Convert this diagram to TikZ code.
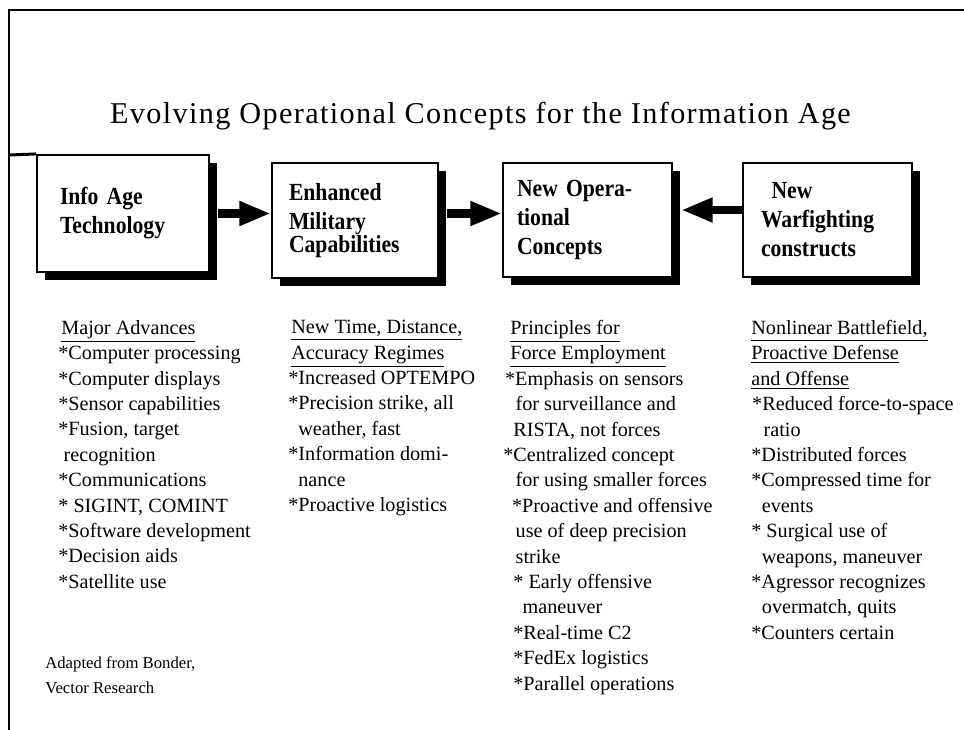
\documentclass[tikz,border=0pt]{standalone}
\usepackage{fontspec}
\setmainfont{Liberation Serif}
\newfontfamily\titlefont[LetterSpace=4.5]{Liberation Serif}
\newfontfamily\boxfont[FakeStretch=0.88]{Liberation Serif}
\usetikzlibrary{arrows.meta,positioning,calc,shadows}
\newcommand{\listsize}{\fontsize{11.5}{14.45}\selectfont}
\newcommand{\boxsize}{\fontsize{14}{16.5}\selectfont}
\newcommand{\ind}[1]{\hspace*{#1pt}}
\tikzset{
  frameline/.style={line width=1.7pt},
  blockbox/.style={draw,line width=1.2pt,fill=white,align=left,
    font=\boxfont\bfseries\boxsize,
    drop shadow={shadow xshift=0.16cm,shadow yshift=-0.16cm,fill=black,opacity=1}},
  bigarrow/.style={line width=4.6pt,-{Triangle[length=18pt,width=13pt]}},
  listcol/.style={anchor=north west,align=left,inner sep=0pt,font=\listsize}
}
\begin{document}
\begin{tikzpicture}[x=0.02cm,y=-0.02cm]
\useasboundingbox (0,0) rectangle (964,730);

% ---------- frame and title ----------
\draw[frameline] (964,10) -- (9,10) -- (9,730);
\node[anchor=base,font=\titlefont\fontsize{17.2}{20}\selectfont] (title) at (480.5,123)
  {Evolving Operational Concepts for the Information Age};

% ---------- the four blocks ----------
\node[blockbox,text width=2.52cm,inner xsep=0.46cm,minimum height=2.34cm] (tech) at (123,213.5)
  {Info Age\\Technology};
\node[blockbox,text width=2.64cm,inner xsep=0.34cm,minimum height=2.3cm] (mil) at (355,220.5)
  {Enhanced\\Military\\[-3.5pt]Capabilities};
\node[blockbox,text width=2.82cm,inner xsep=0.28cm,minimum height=2.28cm] (ops) at (587.5,220)
  {New Opera-\\tional\\Concepts};
\node[blockbox,text width=2.66cm,inner xsep=0.36cm,minimum height=2.28cm] (war) at (827.5,220)
  {\ind{6}New\\Warfighting\\constructs};
\draw[frameline] (9,155) -- (tech.north west);

% ---------- arrows between blocks ----------
\draw[bigarrow] ([xshift=0.16cm]tech.east) -- (tech.east -| mil.west);
\draw[bigarrow] ([xshift=0.16cm]mil.east |- tech.east) -- (tech.east -| ops.west);
\draw[bigarrow] ([yshift=0.2cm]war.west) -- ([xshift=0.16cm,yshift=0.2cm]ops.east);

% ---------- lists under the blocks ----------
\node[listcol] (advances) at (58,320)
  {\ind{1.7}\underline{Major Advances}\\
   {}*Computer processing\\
   {}*Computer displays\\
   {}*Sensor capabilities\\
   {}*Fusion, target\\
   \ind{3}recognition\\
   {}*Communications\\
   {}* SIGINT, COMINT\\
   {}*Software development\\
   {}*Decision aids\\
   {}*Satellite use};
\node[listcol] (regimes) at (288,320)
  {\ind{1.7}\underline{New Time, Distance,}\\
   \ind{1.7}\underline{Accuracy Regimes}\\
   {}*Increased OPTEMPO\\
   {}*Precision strike, all\\
   \ind{5.7}weather, fast\\
   {}*Information domi-\\
   \ind{5.7}nance\\
   {}*Proactive logistics};
\node[listcol] (principles) at (503,320)
  {\ind{4}\underline{Principles for}\\
   \ind{4}\underline{Force Employment}\\
   \ind{1}*Emphasis on sensors\\
   \ind{7}for surveillance and\\
   \ind{5.7}RISTA, not forces\\
   {}*Centralized concept\\
   \ind{7}for using smaller forces\\
   \ind{5}*Proactive and offensive\\
   \ind{7}use of deep precision\\
   \ind{7}strike\\
   \ind{5.7}* Early offensive\\
   \ind{11}maneuver\\
   \ind{5.7}*Real-time C2\\
   \ind{5.7}*FedEx logistics\\
   \ind{5.7}*Parallel operations};
\node[listcol] (constructs) at (751,320)
  {\underline{Nonlinear Battlefield,}\\
   \underline{Proactive Defense}\\
   \underline{and Offense}\\
   \ind{0.5}*Reduced force-to-space\\
   \ind{7}ratio\\
   {}*Distributed forces\\
   {}*Compressed time for\\
   \ind{6}events\\
   {}* Surgical use of\\
   \ind{6}weapons, maneuver\\
   {}*Agressor recognizes\\
   \ind{6}overmatch, quits\\
   {}*Counters certain};

% ---------- source note ----------
\node[listcol,font=\fontsize{9.5}{14.45}\selectfont] (source) at (45,656)
  {Adapted from Bonder,\\Vector Research};
\end{tikzpicture}
\end{document}
